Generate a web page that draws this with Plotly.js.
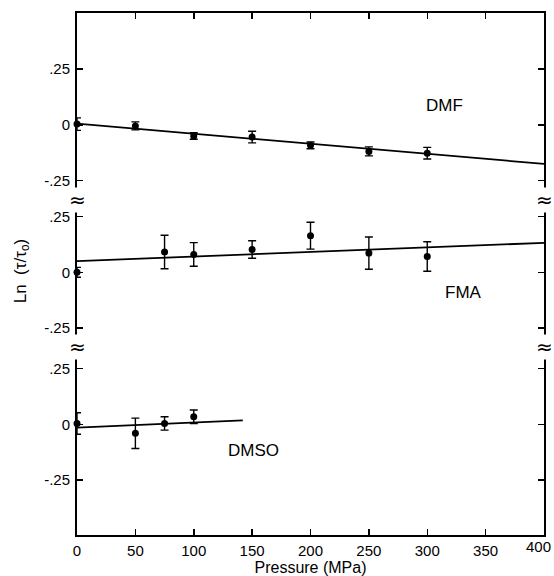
<!DOCTYPE html>
<html>
<head>
<meta charset="utf-8">
<script src="https://cdn.plot.ly/plotly-3.0.1.min.js"></script>
<style>html,body{margin:0;padding:0;background:#fff;}#chart{width:554px;height:576px;}</style>
</head>
<body>
<div id="chart"></div>
<script>
// Data
var dmfP   = [0, 50, 100, 150, 200, 250, 300];
var dmfY   = [0.003, -0.005, -0.05, -0.055, -0.092, -0.119, -0.127];
var dmfErr = [0.028, 0.018, 0.015, 0.026, 0.015, 0.02, 0.026];
var dmfFitP = [0, 400];
var dmfFitY = [0.005, -0.175];

var fmaP   = [0, 75, 100, 150, 200, 250, 300];
var fmaY   = [0.0, 0.091, 0.080, 0.102, 0.164, 0.086, 0.071];
var fmaErr = [0.022, 0.075, 0.053, 0.039, 0.06, 0.072, 0.066];
var fmaFitP = [0, 400];
var fmaFitY = [0.05, 0.132];

var dmsoP   = [0, 50, 75, 100];
var dmsoY   = [0.004, -0.04, 0.004, 0.034];
var dmsoErr = [0.048, 0.068, 0.03, 0.03];
var dmsoFitP = [0, 142];
var dmsoFitY = [-0.015, 0.018];

var xTicks = [0, 50, 100, 150, 200, 250, 300, 350];
var xLastTick = 400;
var xLastLabel = '400';
var xTopTicks = [50, 100, 150, 200, 250, 300, 350];
var yTicks = [-0.25, 0, 0.25];
var yTickText = ['-.25', '0', '.25'];

var FONT = 'Liberation Sans, Arial, sans-serif';

function pts(x, y, e, ya) {
  return {x: x, y: y, yaxis: ya, xaxis: 'x', type: 'scatter', mode: 'markers',
    marker: {color: '#000', size: 7, symbol: 'circle'},
    error_y: {type: 'data', array: e, visible: true, color: '#000', thickness: 1.4, width: 4},
    showlegend: false, hoverinfo: 'skip', cliponaxis: false};
}
function fit(x, y, ya) {
  return {x: x, y: y, yaxis: ya, xaxis: 'x', type: 'scatter', mode: 'lines',
    line: {color: '#000', width: 1.8}, showlegend: false, hoverinfo: 'skip'};
}

var traces = [
  fit(dmfFitP, dmfFitY, 'y'), pts(dmfP, dmfY, dmfErr, 'y'),
  fit(fmaFitP, fmaFitY, 'y2'), pts(fmaP, fmaY, fmaErr, 'y2'),
  fit(dmsoFitP, dmsoFitY, 'y3'), pts(dmsoP, dmsoY, dmsoErr, 'y3'),
  {x: [], y: [], xaxis: 'x2', yaxis: 'y', type: 'scatter', mode: 'markers', showlegend: false, hoverinfo: 'skip'}
];

function yax(domain, range) {
  return {domain: domain, range: range, anchor: 'x', showline: true, linewidth: 2, linecolor: '#000',
    mirror: 'ticks', ticks: 'inside', ticklen: 6, tickwidth: 1.5, tickcolor: '#000',
    tickvals: yTicks, ticktext: yTickText, showgrid: false, zeroline: false,
    tickfont: {family: FONT, size: 15, color: '#000'}, ticklabelstandoff: 2};
}

var dTop = 0.6424, dBot = 0.3597;

var breaks = [];
[[0, dTop], [0, dBot], [1, dTop], [1, dBot]].forEach(function (p) {
  breaks.push({xref: 'paper', yref: 'paper', x: p[0], y: p[1], text: '≈', showarrow: false,
    font: {family: 'DejaVu Sans', size: 20, color: '#000'}, bgcolor: '#fff', borderpad: 0,
    xanchor: 'center', yanchor: 'middle'});
});

var layout = {
  width: 554, height: 576,
  margin: {l: 77, r: 10, t: 13, b: 41},
  paper_bgcolor: '#fff', plot_bgcolor: 'rgba(0,0,0,0)',
  font: {family: FONT, color: '#000'},
  xaxis: {domain: [0, 1], range: [0, 400], anchor: 'y3', showline: true, linewidth: 2, linecolor: '#000',
    ticks: 'inside', ticklen: 6, tickwidth: 1.5, tickcolor: '#000', tickvals: xTicks,
    ticklabelstandoff: 1,
    showgrid: false, zeroline: false, tickfont: {family: FONT, size: 15, color: '#000'},
    title: {text: 'Pressure (MPa)', font: {family: FONT, size: 16, color: '#000'}, standoff: 4}},
  xaxis2: {overlaying: 'x', anchor: 'y', side: 'top', range: [0, 400], showline: true, linewidth: 2,
    linecolor: '#000', ticks: 'inside', ticklen: 6, tickwidth: 1.5, tickcolor: '#000',
    tickvals: xTopTicks, showticklabels: false, showgrid: false, zeroline: false},
  yaxis: yax([dTop, 1], [-0.335, 0.5]),
  yaxis2: yax([dBot, dTop], [-0.335, 0.325]),
  yaxis3: yax([0, dBot], [-0.495, 0.345]),
  annotations: breaks.concat([
    {xref: 'x', yref: 'paper', x: xLastTick, y: 0, text: xLastLabel, showarrow: false,
      xanchor: 'right', yanchor: 'top', xshift: 9, yshift: -1,
      font: {family: FONT, size: 15, color: '#000'}},
    {xref: 'x', yref: 'y', x: 315, y: 0.085, text: 'DMF', showarrow: false,
      font: {family: FONT, size: 17, color: '#000'}},
    {xref: 'x', yref: 'y2', x: 331, y: -0.092, text: 'FMA', showarrow: false,
      font: {family: FONT, size: 17, color: '#000'}},
    {xref: 'x', yref: 'y3', x: 151, y: -0.115, text: 'DMSO', showarrow: false,
      font: {family: FONT, size: 17, color: '#000'}},
    {xref: 'paper', yref: 'paper', x: -0.118, y: 0.505, text: 'Ln  (τ/τ<sub>o</sub>)', showarrow: false,
      textangle: -90, font: {family: FONT, size: 17, color: '#000'}, xanchor: 'center', yanchor: 'middle'}
  ])
};

Plotly.newPlot('chart', traces, layout, {displayModeBar: false, staticPlot: true});
</script>
</body>
</html>
